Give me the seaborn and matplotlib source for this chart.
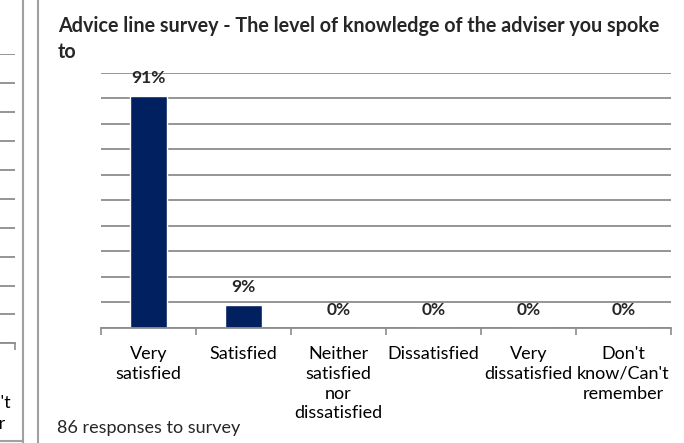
import matplotlib
matplotlib.use("Agg")
import matplotlib.pyplot as plt
from matplotlib.lines import Line2D
import seaborn as sns
import pandas as pd
import numpy as np

# Survey results
categories = ["Very\nsatisfied", "Satisfied", "Neither\nsatisfied\nnor\ndissatisfied",
              "Dissatisfied", "Very\ndissatisfied", "Don't\nknow/Can't\nremember"]
shares = [0.91, 0.09, 0.0, 0.0, 0.0, 0.0]
value_labels = ["91%", "9%", "0%", "0%", "0%", "0%"]
responses_note = "86 responses to survey"
title_text = "Advice line survey - The level of knowledge of the adviser you spoke\nto"

# Neighbouring panel (only its right edge shows)
prev_categories = ["", "", "", "", "", "Don't\nknow/Can't\nremember"]

sns.set_theme(style="white")
plt.rcParams["font.family"] = ["Lato", "DejaVu Sans"]

W, H = 684, 443
fig = plt.figure(figsize=(W / 100, H / 100), dpi=100)

GRID = "#8c8c8c"
BAR = "#002060"
LABEL_SIZE = 13

def px_box(x0, x1, ytop, ybot):
    return [x0 / W, 1 - ybot / H, (x1 - x0) / W, (ybot - ytop) / H]

def style_axes(ax, labels, pad):
    ax.set_ylim(0, 1)
    ax.set_xlim(-0.5, len(labels) - 0.5)
    ax.set_yticks(np.arange(0, 1.01, 0.1))
    ax.set_yticklabels([])
    ax.tick_params(axis="y", length=0)
    ax.grid(axis="y", color=GRID, linewidth=1.3)
    ax.set_axisbelow(True)
    for s in ["top", "right", "left"]:
        ax.spines[s].set_visible(False)
    ax.spines["bottom"].set_color(GRID)
    ax.spines["bottom"].set_linewidth(1.3)
    ax.set_xticks(range(len(labels)))
    ax.set_xticklabels(labels, fontsize=LABEL_SIZE, color="black", linespacing=1.3)
    ax.tick_params(axis="x", which="major", length=0, pad=pad)
    ax.set_xticks(np.arange(-0.5, len(labels), 1.0), minor=True)
    ax.tick_params(axis="x", which="minor", length=5, width=1.2, color=GRID,
                   direction="out", bottom=True)
    ax.set_xlabel("")
    ax.set_ylabel("")

# Neighbouring chart on the left, mostly off canvas
ax0 = fig.add_axes(px_box(-585, 15, 54.3, 343.3))
style_axes(ax0, prev_categories, pad=21)
for lbl in ax0.get_xticklabels():
    lbl.set_linespacing(1.45)

# Main chart
ax = fig.add_axes(px_box(101, 671, 72.7, 327.7))
df = pd.DataFrame({"category": categories, "share": shares})
sns.barplot(data=df, x="category", y="share", color=BAR, width=0.39,
            saturation=1, ax=ax)
style_axes(ax, categories, pad=13)

for i, (v, lab) in enumerate(zip(shares, value_labels)):
    ax.annotate(lab, (i, v), xytext=(0, 12.5), textcoords="offset points",
                ha="center", va="center", fontsize=12.5, fontweight="bold")

fig.text(58 / W, 1 - 16 / H, title_text, ha="left", va="top",
         fontsize=14.2, fontweight="bold", linespacing=1.4)
fig.text(57 / W, 1 - 428 / H, responses_note, ha="left", va="center",
         fontsize=LABEL_SIZE)

# Panel borders
for x in (22.5, 37.5):
    fig.add_artist(Line2D([x / W, x / W], [0, 1], color="#a0a0a0", linewidth=1.5,
                          transform=fig.transFigure))
fig.add_artist(Line2D([0, 22.5 / W], [1 - 441 / H, 1 - 441 / H], color="#a0a0a0",
                      linewidth=1.5, transform=fig.transFigure))

fig.savefig("out.png", dpi=100)
